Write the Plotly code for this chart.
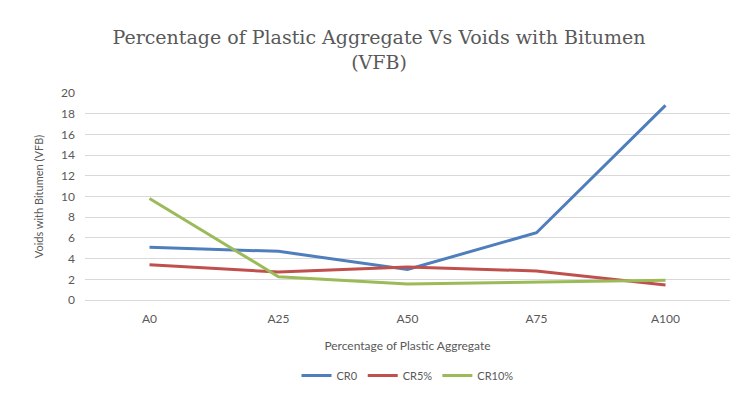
import plotly.graph_objects as go

categories = ["A0", "A25", "A50", "A75", "A100"]
cr0 = [5.1, 4.7, 2.95, 6.5, 18.8]
cr5 = [3.4, 2.7, 3.2, 2.8, 1.45]
cr10 = [9.8, 2.25, 1.55, 1.7, 1.9]
y_ticks = [0, 2, 4, 6, 8, 10, 12, 14, 16, 18, 20]

series = [("CR0", cr0, "#4F7EBD"), ("CR5%", cr5, "#C0504D"), ("CR10%", cr10, "#9BBB59")]

fig = go.Figure()
for name, vals, col in series:
    fig.add_trace(go.Scatter(x=categories, y=vals, mode="lines", name=name,
                             line=dict(color=col, width=3)))

fig.update_layout(
    width=731, height=391,
    paper_bgcolor="white", plot_bgcolor="white",
    margin=dict(l=77, r=9, t=85, b=85),
    title=dict(text="Percentage of Plastic Aggregate Vs Voids with Bitumen<br>(VFB)",
               x=0.5075, xanchor="center", y=0.908, yanchor="middle",
               font=dict(family="DejaVu Serif", size=19, color="#595959")),
    font=dict(family="Lato", color="#595959", size=11),
    legend=dict(orientation="h", x=0.5, xanchor="center", y=-0.365, yanchor="middle",
                font=dict(size=11, color="#595959")),
    showlegend=True,
)
fig.update_xaxes(type="category", range=[-0.5, 4.5], showgrid=False, showline=True, linecolor="#D9D9D9",
                 automargin=False,
                 ticks="", tickfont=dict(size=12, color="#595959"), ticklabelstandoff=8,
                 title=dict(text="Percentage of Plastic Aggregate", font=dict(size=12, color="#595959"), standoff=16))
fig.update_yaxes(range=[0, 20], tickvals=y_ticks, showgrid=True, gridcolor="#D9D9D9", gridwidth=1,
                 automargin=False,
                 zeroline=False, showline=False, ticks="", tickfont=dict(size=12, color="#595959"),
                 ticklabelstandoff=9,
                 title=dict(text="Voids with Bitumen (VFB)", font=dict(size=11, color="#595959"), standoff=15))

fig.write_html("out.html")
